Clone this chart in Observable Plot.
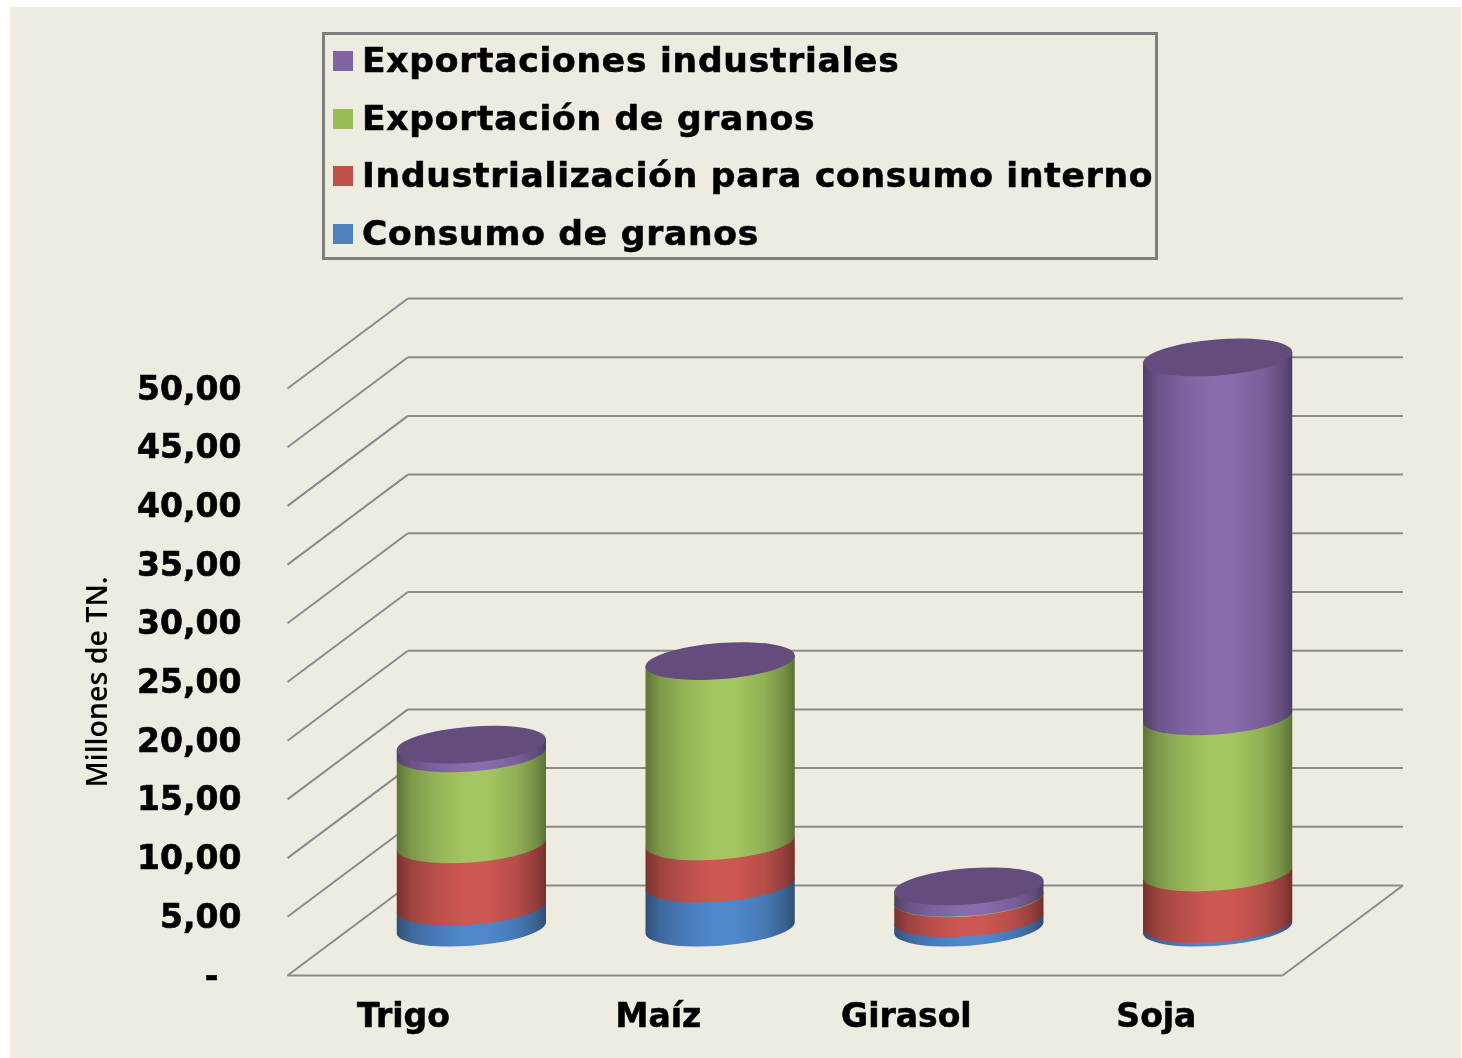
<!DOCTYPE html>
<html lang="es">
<head>
<meta charset="utf-8">
<title>Millones de TN.</title>
<script src="https://cdn.jsdelivr.net/npm/d3@7"></script>
<script src="https://cdn.jsdelivr.net/npm/@observablehq/plot@0.6"></script>
<style>
  html, body { margin: 0; padding: 0; background: #fff; overflow: hidden; }
  #page { position: relative; width: 1462px; height: 1058px; font-family: "DejaVu Sans", sans-serif; }
  #bg { position: absolute; left: 10px; top: 7px; right: 1px; bottom: 0; background: #eeece1; }
  #chart { position: absolute; left: 0; top: 0; filter: blur(0.6px); }
  #chart svg { display: block; background: transparent; }
  #chart g[font-weight="bold"] { stroke: #000; stroke-width: 0.6px; }
  #legend { position: absolute; left: 322px; top: 32px; width: 830px; height: 222px; border: 3px solid #7f7f7f;
            filter: blur(0.6px); white-space: nowrap; }
  .row { position: absolute; left: 8px; height: 40px; display: flex; align-items: center; }
  .key { width: 20px; height: 20px; margin-right: 9px; flex: none; }
  .lab { position: relative; top: -1.5px; font-weight: bold; font-size: 34.5px; letter-spacing: 0.75px; line-height: 40px; color: #000; -webkit-text-stroke: 0.6px #000; }
</style>
</head>
<body>
<div id="page">
  <div id="bg"></div>
  <div id="chart"></div>
  <div id="legend"></div>
</div>
<script>
// ---- data (Millones de TN.) ----
const crops = ["Trigo", "Maíz", "Girasol", "Soja"];
const cropLabelAt = [0.466, 1.491, 2.488, 3.493];
const seriesNames = ["Consumo de granos", "Industrialización para consumo interno", "Exportación de granos", "Exportaciones industriales"];
const consumoGranos = [1.8, 3.75, 0.8, 0.3];
const industrializacion = [5.3, 3.6, 1.7, 4.4];
const exportacionGranos = [7.75, 15.39, 0.05, 13.3];
const exportacionesInd = [0.77, 0.0, 1.0, 30.6];
const seriesValues = [consumoGranos, industrializacion, exportacionGranos, exportacionesInd];
const seriesColors = ["#4f81bd", "#c0504d", "#9bbb59", "#8064a2"];
const seriesMid = ["#5088cb", "#cd5752", "#a4c661", "#8a6bac"];
const seriesDark = ["#2c4a6e", "#6e2e2c", "#586b32", "#4a3a60"];
const capColor = "#644c7c";
const yTicks = [0, 5, 10, 15, 20, 25, 30, 35, 40, 45, 50];
const yTickLabels = ["-\u00a0\u00a0", "5,00", "10,00", "15,00", "20,00", "25,00", "30,00", "35,00", "40,00", "45,00", "50,00"];
const yTitle = "Millones de TN.";

// depth of the 3D box and placement of the columns, in data units
const depthX = 0.484, depthY = 7.666;
const columnShiftX = 60, columnShiftY = -47;

// stacked rows, bottom to top
const rows = [];
const totals = [];
crops.forEach((crop, i) => {
  let base = 0;
  seriesNames.forEach((series, s) => {
    const v = seriesValues[s][i];
    rows.push({crop, series, x1: i + 0.2, x2: i + 0.8, y1: base, y2: base + v});
    base += v;
  });
  totals.push({crop, x1: i + 0.2, x2: i + 0.8, total: base});
});

const wallRows = yTicks.slice(1).map(v => ({v}));
const floorLines = [
  {x1: 0, y1: 0, x2: 4, y2: 0},
  {x1: 4, y1: 0, x2: 4 + depthX, y2: depthY}
];

// tilted-ellipse geometry, proportional to the column's width
const tilt = -4.45, rxRatio = 1.003, ryRatio = 0.2409, edgeRatio = 0.0733;

function cylinderBody(index, scales, values, dims, ctx, next) {
  const g = next(index, scales, values, dims, ctx);
  d3.select(g).selectAll("rect").each(function(_, k) {
    const i = index[k];
    const xl = values.x1[i], xr = values.x2[i];
    const yb = Math.max(values.y1[i], values.y2[i]), yt = Math.min(values.y1[i], values.y2[i]);
    const half = (xr - xl) / 2, rx = half * rxRatio, ry = rx * ryRatio, e = half * edgeRatio;
    const path = document.createElementNS("http://www.w3.org/2000/svg", "path");
    path.setAttribute("d", `M${xl},${yt + e}L${xl},${yb + e}A${rx},${ry} ${tilt} 0 0 ${xr},${yb - e}L${xr},${yt - e}Z`);
    path.setAttribute("fill", this.getAttribute("fill"));
    this.replaceWith(path);
  });
  return g;
}

function cylinderCap(index, scales, values, dims, ctx, next) {
  const g = next(index, scales, values, dims, ctx);
  d3.select(g).selectAll("rect").each(function(_, k) {
    const i = index[k];
    const xl = values.x1[i], xr = values.x2[i], yc = values.y1[i];
    const half = (xr - xl) / 2, rx = half * rxRatio, ry = rx * ryRatio;
    const el = document.createElementNS("http://www.w3.org/2000/svg", "ellipse");
    el.setAttribute("cx", (xl + xr) / 2);
    el.setAttribute("cy", yc);
    el.setAttribute("rx", rx);
    el.setAttribute("ry", ry);
    el.setAttribute("transform", `rotate(${tilt} ${(xl + xr) / 2} ${yc})`);
    el.setAttribute("fill", capColor);
    this.replaceWith(el);
  });
  return g;
}

function gradients() {
  const svg = d3.create("svg:g");
  const defs = svg.append("defs");
  seriesNames.forEach((_, s) => {
    const lg = defs.append("linearGradient").attr("id", "grad" + s).attr("x1", 0).attr("x2", 1).attr("y1", 0).attr("y2", 0);
    const mix = t => d3.interpolateRgb(seriesDark[s], seriesMid[s])(t);
    [[0, 0.1], [0.1, 0.5], [0.25, 0.78], [0.45, 1], [0.6, 1], [0.8, 0.75], [0.93, 0.4], [1, 0.05]].forEach(([o, t]) =>
      lg.append("stop").attr("offset", o).attr("stop-color", mix(t)));
  });
  return svg.node();
}

const gridStroke = "#8a8a8a";
const chart = Plot.plot({
  width: 1462,
  height: 1058,
  marginLeft: 287,
  marginRight: 180,
  marginTop: 388,
  marginBottom: 83,
  style: {fontFamily: "'DejaVu Sans', sans-serif", background: "transparent", color: "#000", overflow: "visible"},
  x: {domain: [0, 4], axis: null},
  y: {domain: [0, 50]},
  color: {type: "ordinal", domain: seriesNames, range: seriesNames.map((_, s) => `url(#grad${s})`)},
  marks: [
    gradients,
    // back wall
    Plot.link(wallRows, {x1: depthX, x2: 4 + depthX, y1: d => d.v + depthY, y2: d => d.v + depthY, stroke: gridStroke, strokeWidth: 2}),
    Plot.link(wallRows, {x1: 0, x2: depthX, y1: "v", y2: d => d.v + depthY, stroke: gridStroke, strokeWidth: 2}),
    // floor
    Plot.link([0], {x1: 0, x2: depthX, y1: 0, y2: depthY, stroke: gridStroke, strokeWidth: 2}),
    Plot.link([0], {x1: depthX, x2: 4 + depthX, y1: depthY, y2: depthY, stroke: gridStroke, strokeWidth: 2}),
    Plot.link(floorLines, {x1: "x1", y1: "y1", x2: "x2", y2: "y2", stroke: gridStroke, strokeWidth: 2}),
    // columns
    Plot.rect(rows, {x1: "x1", x2: "x2", y1: "y1", y2: "y2", fill: "series", dx: columnShiftX, dy: columnShiftY, render: cylinderBody}),
    Plot.rect(totals, {x1: "x1", x2: "x2", y1: "total", y2: "total", fill: capColor, dx: columnShiftX, dy: columnShiftY, render: cylinderCap}),
    // axes
    Plot.axisY({ticks: yTicks, tickFormat: d => yTickLabels[yTicks.indexOf(d)], tickSize: 0, tickPadding: 46, dy: 0.5, fontSize: 33, fontWeight: "bold", label: null}),
    Plot.text(crops, {x: (d, i) => cropLabelAt[i], y: 0, dy: 41, text: d => d, fontSize: 33, fontWeight: "bold", fill: "#000"}),
    Plot.text([yTitle], {frameAnchor: "left", textAnchor: "middle", dx: -190, rotate: -90, text: d => d, fontFamily: "'Open Sans', sans-serif", fontSize: 28.5, fontWeight: 600, fill: "#000"})
  ]
});
document.getElementById("chart").appendChild(chart);

// legend (top entry first, as in the reference)
const legend = d3.select("#legend");
const legendTops = [6.3, 64, 121, 179];
d3.range(seriesNames.length).reverse().forEach((s, r) => {
  const row = legend.append("div").attr("class", "row").style("top", legendTops[r] + "px");
  row.append("div").attr("class", "key").style("background", seriesColors[s]);
  row.append("div").attr("class", "lab").text(seriesNames[s]);
});
</script>
</body>
</html>
